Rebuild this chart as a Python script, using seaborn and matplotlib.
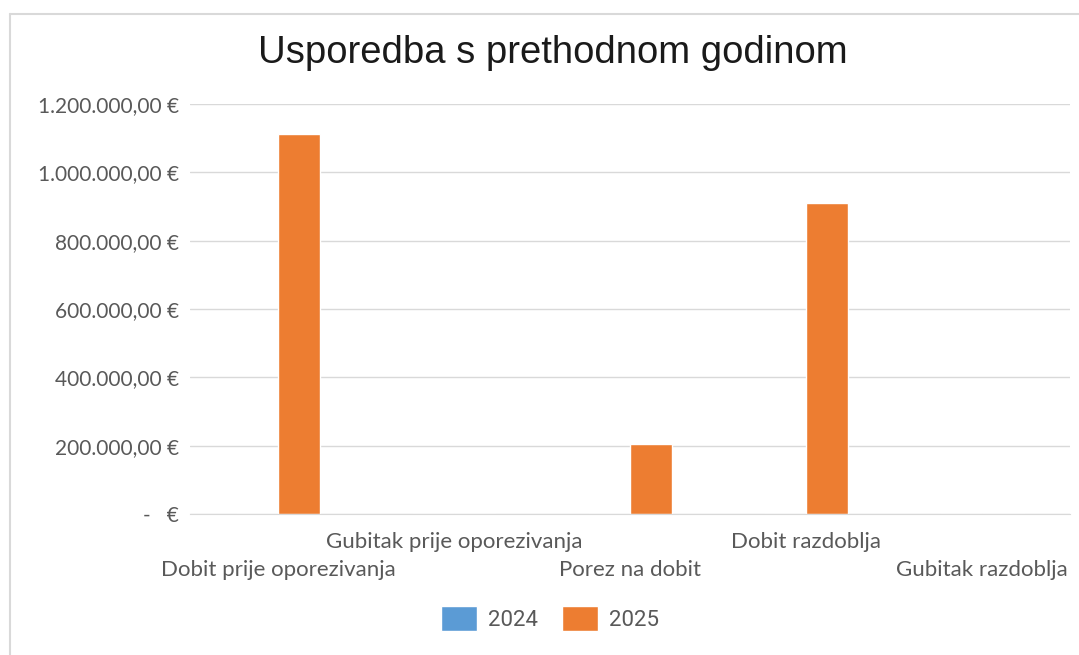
import pandas as pd
import matplotlib.pyplot as plt
import seaborn as sns
from matplotlib.lines import Line2D
from matplotlib.ticker import FuncFormatter

# Values
categories = ["Dobit prije oporezivanja", "Gubitak prije oporezivanja",
              "Porez na dobit", "Dobit razdoblja", "Gubitak razdoblja"]
values_2024 = [0, 0, 0, 0, 0]
values_2025 = [1114000, 0, 205000, 912000, 0]
years = ["2024", "2025"]
y_ticks = [0, 200000, 400000, 600000, 800000, 1000000, 1200000]

df = pd.DataFrame({
    "kategorija": categories * 2,
    "godina": [years[0]] * len(categories) + [years[1]] * len(categories),
    "iznos": values_2024 + values_2025,
})

sns.set_style("white")

fig = plt.figure(figsize=(10.79, 6.55), dpi=100)
ax = fig.add_axes([0.176, 0.215, 0.816, 0.626])

sns.barplot(data=df, x="kategorija", y="iznos", hue="godina",
            palette=["#5b9bd5", "#ed7d31"], width=0.48, saturation=1,
            ax=ax, legend=True)

ax.set_ylim(0, 1200000)
ax.set_yticks(y_ticks)
ax.set_xlim(-0.5, len(categories) - 0.5)


def euro(v, pos):
    if v == 0:
        return "-   €"
    s = f"{v:,.2f}".replace(",", "X").replace(".", ",").replace("X", ".")
    return s + " €"


ax.yaxis.set_major_formatter(FuncFormatter(euro))
ax.grid(axis="y", color="#d9d9d9", linewidth=1)
ax.set_axisbelow(True)
for side in ["top", "right", "left"]:
    ax.spines[side].set_visible(False)
ax.spines["bottom"].set_color("#d9d9d9")
ax.tick_params(axis="y", length=0, pad=8, labelsize=15, labelcolor="#595959")
ax.tick_params(axis="x", length=0, pad=13, labelsize=16, labelcolor="#595959")
for lbl in ax.get_yticklabels():
    lbl.set_family("Lato")
ax.set_xlabel("")
ax.set_ylabel("")

# Staggered category labels like the original
for i, lbl in enumerate(ax.get_xticklabels()):
    lbl.set_family("Lato")
    if i % 2 == 0:
        lbl.set_y(-0.068)

fig.text(0.5125, 1 - 53 / 655, "Usporedba s prethodnom godinom", fontsize=27.5,
         family="Liberation Sans", color="#1a1a1a", ha="center", va="center")

leg = ax.legend(loc="center", bbox_to_anchor=(0.409, -0.255), ncol=2,
                frameon=False, fontsize=16, handlelength=1.6, handleheight=1.3,
                columnspacing=1.1, handletextpad=0.5)
for t in leg.get_texts():
    t.set_color("#595959")
    t.set_family("Roboto")

# Light frame on the top and left edges
fig.add_artist(Line2D([0.009, 1.0], [0.978, 0.978], color="#d9d9d9", linewidth=1.5))
fig.add_artist(Line2D([0.009, 0.009], [0.0, 0.978], color="#d9d9d9", linewidth=1.5))

fig.savefig("out.png", dpi=100)
